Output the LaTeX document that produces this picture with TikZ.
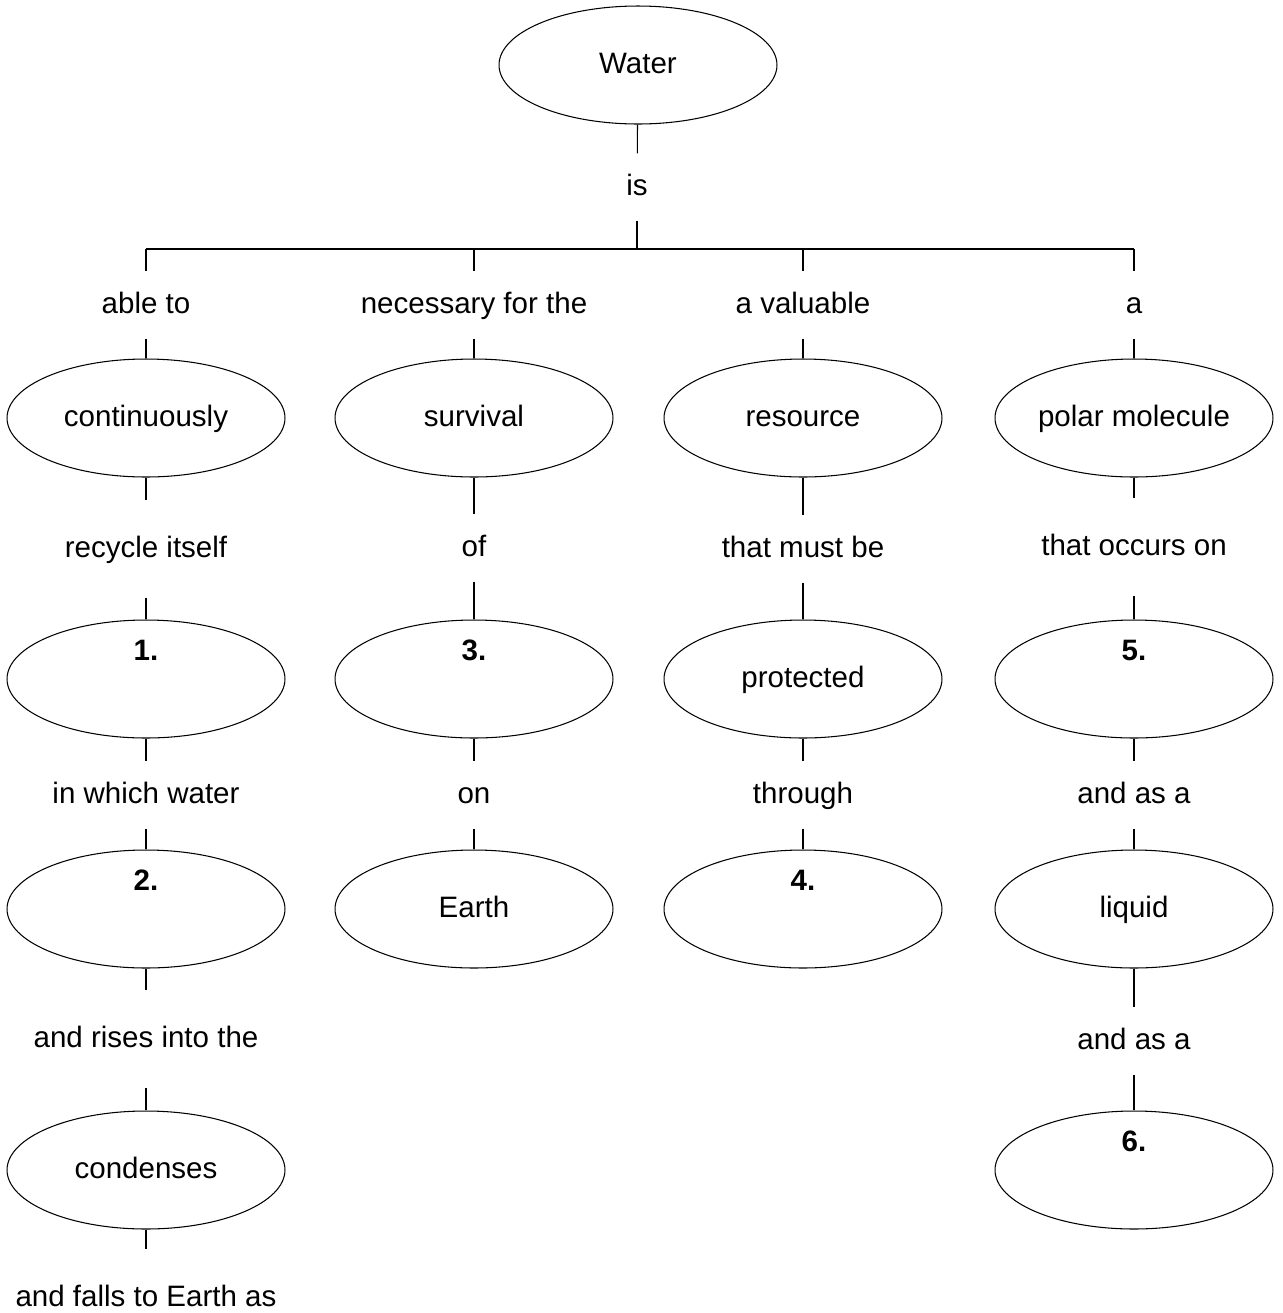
\documentclass[tikz,border=0pt]{standalone}
\usepackage{fontspec}
\setmainfont{Liberation Sans}
\usetikzlibrary{shapes.geometric}
\def\mapfont{\fontsize{16.8}{20}\selectfont}
\tikzset{
	concept/.style={ellipse, draw, line width=0.6pt, minimum width=5.56cm, minimum height=2.36cm, inner sep=0pt, text height=1.0em, text depth=0em, font=\mapfont},
	linkword/.style={inner sep=0pt, minimum height=1.32cm, text height=1.0em, text depth=0em, font=\mapfont},
	longlink/.style={linkword, minimum height=1.92cm},
	blanknum/.style={inner sep=0pt, text height=1.0em, text depth=0em, font=\mapfont\bfseries}
}

\begin{document}
\begin{tikzpicture}[x=0.02cm, y=-0.02cm, line width=0.6pt]
			%%%%% START %%%%%
			\useasboundingbox (0,0) rectangle (1283,1313);
			
			\node[concept] (water) at (638,65) {Water};
			\node[linkword] (is) at (637,187) {is};
			\coordinate (bar) at (637,249);
			\coordinate (b1) at (146,249);
			\coordinate (b2) at (474,249);
			\coordinate (b3) at (803,249);
			\coordinate (b4) at (1134,249);
			
			\node[linkword] (ableto) at (146,305) {able to};
			\node[linkword] (necfor) at (474,305) {necessary for the};
			\node[linkword] (valuable) at (803,305) {a valuable};
			\node[linkword] (a) at (1134,305) {a};
			
			\node[concept] (continuously) at (146,418) {continuously};
			\node[concept] (survival) at (474,418) {survival};
			\node[concept] (resource) at (803,418) {resource};
			\node[concept] (polar) at (1134,418) {polar molecule};
			
			\node[longlink] (recycle) at (146,549) {recycle itself};
			\node[linkword] (of) at (474,548) {of};
			\node[linkword] (mustbe) at (803,549) {that must be};
			\node[longlink] (occurs) at (1134,547) {that occurs on};
			
			\node[concept] (blank1) at (146,679) {};
			\node[concept] (blank3) at (474,679) {};
			\node[concept] (protected) at (803,679) {protected};
			\node[concept] (blank5) at (1134,679) {};
			\node[blanknum] (num1) at ([yshift=0.54cm]blank1.center) {1.};
			\node[blanknum] (num3) at ([yshift=0.54cm]blank3.center) {3.};
			\node[blanknum] (num5) at ([yshift=0.54cm]blank5.center) {5.};
			
			\node[linkword] (inwhich) at (146,795) {in which water};
			\node[linkword] (on) at (474,795) {on};
			\node[linkword] (through) at (803,795) {through};
			\node[linkword] (asa1) at (1134,795) {and as a};
			
			\node[concept] (blank2) at (146,909) {};
			\node[concept] (earth) at (474,909) {Earth};
			\node[concept] (blank4) at (803,909) {};
			\node[concept] (liquid) at (1134,909) {liquid};
			\node[blanknum] (num2) at ([yshift=0.54cm]blank2.center) {2.};
			\node[blanknum] (num4) at ([yshift=0.54cm]blank4.center) {4.};
			
			\node[longlink] (rises) at (146,1039) {and rises into the};
			\node[linkword] (asa2) at (1134,1041) {and as a};
			
			\node[concept] (condenses) at (146,1170) {condenses};
			\node[concept] (blank6) at (1134,1170) {};
			\node[blanknum] (num6) at ([yshift=0.54cm]blank6.center) {6.};
			
			\node[longlink] (falls) at (146,1298) {and falls to Earth as};
			
			\draw (water) -- (is);
			\draw (is) -- (bar);
			\draw (b1) -- (b4);
			\draw (b1) -- (ableto);
			\draw (b2) -- (necfor);
			\draw (b3) -- (valuable);
			\draw (b4) -- (a);
			
			\draw (ableto) -- (continuously);
			\draw (necfor) -- (survival);
			\draw (valuable) -- (resource);
			\draw (a) -- (polar);
			
			\draw (continuously) -- (recycle);
			\draw (recycle) -- (blank1);
			\draw (blank1) -- (inwhich);
			\draw (inwhich) -- (blank2);
			\draw (blank2) -- (rises);
			\draw (rises) -- (condenses);
			\draw (condenses) -- (falls);
			
			\draw (survival) -- (of);
			\draw (of) -- (blank3);
			\draw (blank3) -- (on);
			\draw (on) -- (earth);
			
			\draw (resource) -- (mustbe);
			\draw (mustbe) -- (protected);
			\draw (protected) -- (through);
			\draw (through) -- (blank4);
			
			\draw (polar) -- (occurs);
			\draw (occurs) -- (blank5);
			\draw (blank5) -- (asa1);
			\draw (asa1) -- (liquid);
			\draw (liquid) -- (asa2);
			\draw (asa2) -- (blank6);
			
			%%%%% END %%%%%
\end{tikzpicture}
\end{document}
